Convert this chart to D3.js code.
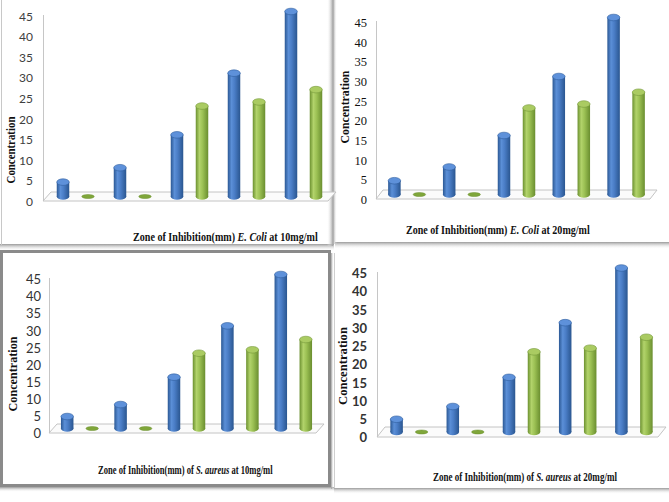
<!DOCTYPE html>
<html><head><meta charset="utf-8">
<script src="https://cdn.jsdelivr.net/npm/d3@7"></script>
<style>html,body{margin:0;padding:0;background:#fff;}svg{display:block;}</style>
</head><body>
<svg id="c" width="669" height="502"></svg>
<script>
// ---- data ----
const groups = ["1", "2", "3", "4", "5"];
const seriesNames = ["Series1", "Series2"];
const blueValues = [3.5, 7, 15, 30, 45];
const greenValues = [0, 0, 22, 23, 26];
const yTicks = [0, 5, 10, 15, 20, 25, 30, 35, 40, 45];
const yLabel = "Concentration";
const titlePre = ["Zone of Inhibition(mm) ", "Zone of Inhibition(mm) ", "Zone of Inhibition(mm)  of ", "Zone of Inhibition(mm)  of "];
const titleItalic = ["E. Coli", "E. Coli", "S. aureus", "S. aureus"];
const titlePost = [" at 10mg/ml", " at 20mg/ml", " at 10mg/ml", " at 20mg/ml"];

// ---- layout ----
const panels = [
  {fx0:43, fx1:328, y0:201, y45:16, dx:8, dy:9, tickRight:33, tickFont:"Lato, 'Open Sans', sans-serif", tickSize:12, tickWeight:400, tickColor:"#404040",
   concX:11, concY:150, concLen:67, tX1:133, tX2:318, tY:241},
  {fx0:376, fx1:650, y0:199, y45:22, dx:7, dy:9, tickRight:367, tickFont:"'Liberation Serif', serif", tickSize:12.5, tickWeight:400, tickColor:"#111",
   concX:345, concY:107, concLen:73, tX1:406, tX2:590, tY:234},
  {fx0:49, fx1:316, y0:433, y45:279, dx:8, dy:9, tickRight:41, tickFont:"Lato, 'Open Sans', sans-serif", tickSize:13, tickWeight:400, tickColor:"#333",
   concX:13, concY:374, concLen:75, tX1:98, tX2:273, tY:474},
  {fx0:377, fx1:658, y0:437, y45:273, dx:8, dy:10, tickRight:367, tickFont:"Lato, 'Open Sans', sans-serif", tickSize:13, tickWeight:700, tickColor:"#333",
   concX:343, concY:366, concLen:78, tX1:433, tX2:617, tY:481}
];

const svg = d3.select("#c");
const defs = svg.append("defs");

function lg(id, stops, vertical) {
  const g = defs.append("linearGradient").attr("id", id)
    .attr("x1", 0).attr("y1", 0).attr("x2", vertical ? 0 : 1).attr("y2", vertical ? 1 : 0);
  stops.forEach(s => g.append("stop").attr("offset", s[0]).attr("stop-color", s[1]).attr("stop-opacity", s[2] === undefined ? 1 : s[2]));
}
lg("gBlue", [[0, "#2B5894"], [0.3, "#5B8FD7"], [0.55, "#4A7DC6"], [1, "#2A5690"]]);
lg("gGreen", [[0, "#6C9130"], [0.3, "#B2D36B"], [0.55, "#9CC154"], [1, "#6A8E2F"]]);
lg("shV", [[0, "#9a9a9a"], [1, "#ffffff", 0]], true);
lg("shH", [[0, "#9a9a9a"], [1, "#ffffff", 0]], false);
lg("shHr", [[0, "#ffffff", 0], [1, "#a0a0a0"]], false);

// ---- panel frames ----
svg.append("rect").attr("x", 0).attr("y", 0).attr("width", 669).attr("height", 502).attr("fill", "#fff");
svg.append("rect").attr("x", 0).attr("y", 244).attr("width", 334).attr("height", 7).attr("fill", "url(#shV)");
svg.append("rect").attr("x", 327).attr("y", 0).attr("width", 6).attr("height", 246).attr("fill", "url(#shHr)");
svg.append("line").attr("x1", 1.5).attr("x2", 1.5).attr("y1", 0).attr("y2", 245).attr("stroke", "#c8c8c8");
svg.append("rect").attr("x", 335).attr("y", 242).attr("width", 334).attr("height", 7).attr("fill", "url(#shV)");
svg.append("rect").attr("x", 333).attr("y", 0).attr("width", 4).attr("height", 244).attr("fill", "url(#shH)");
svg.append("rect").attr("x", 1.5).attr("y", 251.5).attr("width", 328).attr("height", 234).attr("fill", "#fff")
  .attr("stroke", "#8a8a8a").attr("stroke-width", 3);
svg.append("rect").attr("x", 0).attr("y", 487).attr("width", 334).attr("height", 5).attr("fill", "url(#shV)");
svg.append("rect").attr("x", 331).attr("y", 253).attr("width", 3).attr("height", 236).attr("fill", "url(#shH)");
svg.append("line").attr("x1", 334.5).attr("x2", 334.5).attr("y1", 253).attr("y2", 488).attr("stroke", "#cfcfcf");
svg.append("rect").attr("x", 334).attr("y", 488).attr("width", 335).attr("height", 6).attr("fill", "url(#shV)");

// ---- charts ----
panels.forEach((p, i) => {
  const g = svg.append("g");
  const y = d3.scaleLinear().domain([0, 45]).range([p.y0, p.y45]);
  const x = d3.scaleBand().domain(groups).range([p.fx0, p.fx1]).padding(0);
  const xs = d3.scalePoint().domain(seriesNames).range([x.bandwidth() / 2 - 12.5, x.bandwidth() / 2 + 12.5]);

  g.append("line").attr("x1", p.fx0 + 0.5).attr("x2", p.fx0 + 0.5).attr("y1", y(45) - 1).attr("y2", p.y0)
    .attr("stroke", "#c6c6c6").attr("stroke-width", 1);

  g.append("path").attr("d", d3.line()([
    [p.fx0, p.y0], [p.fx1, p.y0], [p.fx1 + p.dx, p.y0 - p.dy], [p.fx0 + p.dx, p.y0 - p.dy], [p.fx0, p.y0]
  ])).attr("fill", "#fbfbfb").attr("stroke", "#c4c4c4").attr("stroke-width", 1);

  const ax = g.append("g").attr("transform", `translate(${p.tickRight},0)`)
    .call(d3.axisLeft(y).tickValues(yTicks).tickSize(0).tickPadding(0).tickFormat(d3.format("d")));
  ax.select(".domain").remove();
  ax.selectAll("text").attr("font-family", p.tickFont).attr("font-size", p.tickSize)
    .attr("font-weight", p.tickWeight).attr("fill", p.tickColor).attr("dy", "0.36em");

  const w = 12.5, ry = 3.3;
  const bars = [];
  groups.forEach((gr, j) => {
    bars.push({s: seriesNames[0], g: gr, v: blueValues[j]});
    bars.push({s: seriesNames[1], g: gr, v: greenValues[j]});
  });
  const bg = g.append("g");
  bars.forEach(b => {
    const cx = x(b.g) + xs(b.s) + p.dx / 2;
    const yb = p.y0 - p.dy / 2;
    const yt = y(b.v) - p.dy / 2;
    const blue = b.s === seriesNames[0];
    const fill = blue ? "url(#gBlue)" : "url(#gGreen)";
    const topFill = blue ? "#5E91DA" : "#AACB62";
    const topStroke = blue ? "#2F5E9E" : "#76993A";
    if (b.v === 0) {
      bg.append("ellipse").attr("cx", cx).attr("cy", yb).attr("rx", w / 2).attr("ry", 2)
        .attr("fill", "#7FA63A").attr("stroke", "#6A8E2F").attr("stroke-width", 0.5);
      return;
    }
    bg.append("ellipse").attr("cx", cx).attr("cy", yb).attr("rx", w / 2).attr("ry", ry).attr("fill", fill);
    bg.append("rect").attr("x", cx - w / 2).attr("y", yt).attr("width", w).attr("height", yb - yt).attr("fill", fill);
    bg.append("ellipse").attr("cx", cx).attr("cy", yt).attr("rx", w / 2).attr("ry", ry)
      .attr("fill", topFill).attr("stroke", topStroke).attr("stroke-width", 0.6);
  });

  // y label: fixed font size, squeezed along its length to fit
  const yl = g.append("text").attr("text-anchor", "middle").attr("font-family", "'Liberation Serif', serif")
    .attr("font-weight", 700).attr("font-size", 12.5).attr("fill", "#111").text(yLabel);
  const ylw = yl.node().getComputedTextLength();
  yl.attr("transform", `translate(${p.concX + 4},${p.concY}) rotate(-90) scale(${(p.concLen / ylw).toFixed(3)},1)`);

  // title: fixed font size, squeezed horizontally to fit
  const t = g.append("text").attr("font-family", "'Liberation Serif', serif")
    .attr("font-weight", 700).attr("font-size", 11.5).attr("fill", "#111");
  t.append("tspan").text(titlePre[i]);
  t.append("tspan").attr("font-style", "italic").text(titleItalic[i]);
  t.append("tspan").text(titlePost[i]);
  const tw = t.node().getComputedTextLength();
  t.attr("transform", `translate(${p.tX1},${p.tY}) scale(${((p.tX2 - p.tX1) / tw).toFixed(3)},1)`);
});
</script>
</body></html>
